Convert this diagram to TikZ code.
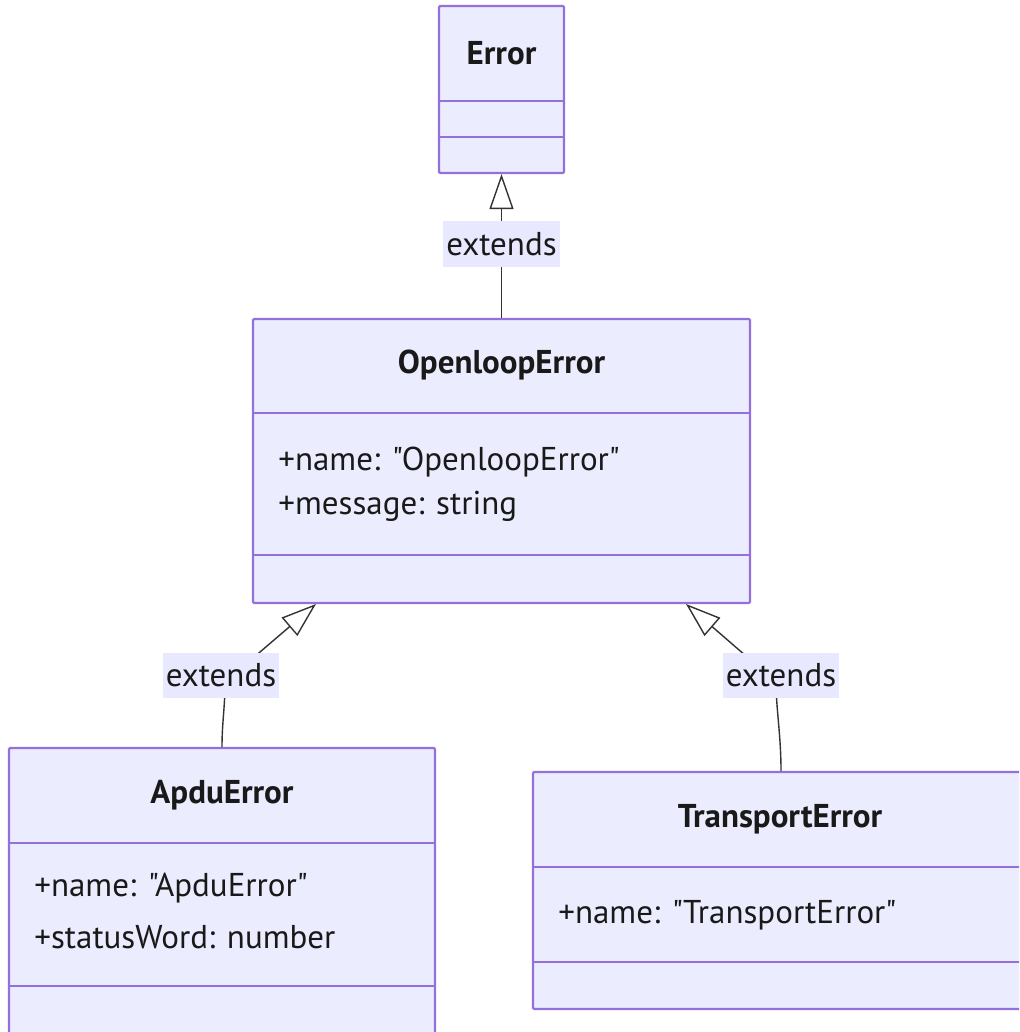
\documentclass[tikz,border=0pt]{standalone}
\usepackage{fontspec}
\setmainfont{PT Sans}[Ligatures=TeXOff]
\usetikzlibrary{arrows.meta}
\definecolor{boxfill}{HTML}{ECECFF}
\definecolor{boxline}{HTML}{9370DB}
\definecolor{edgeline}{HTML}{333333}
\definecolor{lblfill}{HTML}{E8E8FF}
\begin{document}
\begin{tikzpicture}[x=0.5pt,y=-0.5pt,
  classbox/.style={draw=boxline,fill=boxfill,line width=1.1pt,rectangle,rounded corners=0.6pt,inner sep=0pt},
  divider/.style={draw=boxline,line width=1.1pt},
  titletext/.style={font=\fontsize{16.5}{20}\selectfont\bfseries,text=black!90,inner sep=0pt},
  attrtext/.style={font=\fontsize{16.5}{20}\selectfont,text=black!90,anchor=west,inner sep=0pt},
  lbl/.style={fill=lblfill,font=\fontsize{16.5}{20}\selectfont,text=black!90,inner xsep=1.5pt,minimum height=22.5pt},
  ext/.style={draw=edgeline,line width=0.7pt,-{Triangle[open,length=17.5pt,width=12pt,fill=white]}}
]
\useasboundingbox (0,0) rectangle (1019,1032);
\clip (0,0) rectangle (1019,1032);

% Error
\node[classbox,minimum width=62.5pt,minimum height=83.5pt] (err) at (501.5,89.5) {};
\draw[divider] (439,101) -- (564,101);
\draw[divider] (439,137) -- (564,137);
\node[titletext] (errt) at (501.5,53) {Error};

% OpenloopError
\node[classbox,minimum width=248.5pt,minimum height=142pt] (ole) at (501.5,461) {};
\draw[divider] (253,413) -- (750,413);
\draw[divider] (253,555) -- (750,555);
\node[titletext] (olet) at (501.5,365) {OpenloopError};
\node[attrtext] (olea1) at (278,462) {+name: "OpenloopError"};
\node[attrtext] (olea2) at (278,506) {+message: string};

% ApduError
\node[classbox,minimum width=213pt,minimum height=143pt] (apdu) at (222,891) {};
\draw[divider] (9,843) -- (435,843);
\draw[divider] (9,986) -- (435,986);
\node[titletext] (apdut) at (222,795) {ApduError};
\node[attrtext] (apdua1) at (34,888) {+name: "ApduError"};
\node[attrtext] (apdua2) at (34,937) {+statusWord: number};

% TransportError
\node[classbox,minimum width=247pt,minimum height=118.5pt] (tre) at (780,890.5) {};
\draw[divider] (533,867) -- (1027,867);
\draw[divider] (533,962) -- (1027,962);
\node[titletext] (tret) at (780,819) {TransportError};
\node[attrtext] (trea1) at (558,915) {+name: "TransportError"};

% connectors
\coordinate (l0) at (501.5,244);
\coordinate (l1) at (221,675);
\coordinate (l2) at (781,675);
\coordinate (c1) at (225,682);
\coordinate (c2) at (776,682);
\coordinate (t1) at (316,604);
\coordinate (t2) at (686,604);

\draw[ext] (ole.north) -- (err.south);
\draw[ext] (apdu.north) .. controls (222,722) and (225,708) .. (c1) -- (t1);
\draw[ext] (tre.north -| l2) .. controls (781,735) and (776,708) .. (c2) -- (t2);

\node[lbl] (lab0) at (l0) {extends};
\node[lbl] (lab1) at (l1) {extends};
\node[lbl] (lab2) at (l2) {extends};
\end{tikzpicture}
\end{document}
